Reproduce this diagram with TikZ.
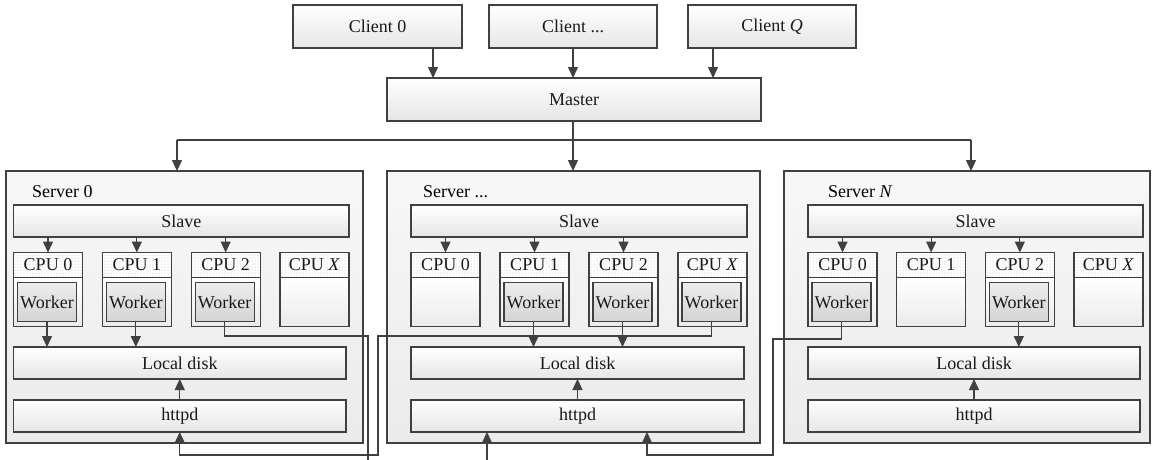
\documentclass[tikz,border=0pt]{standalone}
\usepackage{fontspec}
\setmainfont{Liberation Serif}
\usetikzlibrary{arrows.meta,patterns,calc}

\tikzset{
  ln/.style={draw=black!75, line width=1.3pt},
  arr/.style={ln, -{Triangle[length=11pt,width=10pt]}},
  boxbase/.style={draw=black!75, line width=1.3pt, inner sep=0pt, outer sep=0pt,
                  anchor=north west, text=black!90},
  panel/.style={boxbase, top color=white, bottom color=black!10},
  serverbox/.style={boxbase, top color=black!3, bottom color=black!8},
  cpuhead/.style={boxbase, preaction={fill=white}, pattern=dots, pattern color=black!30},
  cpubody/.style={boxbase, top color=white, bottom color=black!8},
  workerbox/.style={boxbase, top color=black!7, bottom color=black!17},
}

% one server: id, box left, box right, content left, content right, label x, label
\newcommand\serverunit[7]{%
  \node[serverbox, minimum width={#3-#2}, minimum height=272] (#1) at (#2,171) {};
  \node[anchor=west, inner sep=0pt] (#1lbl) at (#6,192) {#7};
  \node[panel, minimum width={#5-#4}, minimum height=32] (#1slave) at (#4,205) {Slave};
  \pgfmathsetmacro\cpupitch{(#5-#4-69)/3}
  \foreach \i/\lab in {0/CPU 0,1/CPU 1,2/CPU 2,3/CPU \textit{X}} {
    \pgfmathsetmacro\cx{#4+\i*\cpupitch}
    \node[cpuhead, minimum width=69, minimum height=25] (#1c\i h) at (\cx,252.5) {\lab};
    \node[cpubody, minimum width=69, minimum height=49] (#1c\i b) at (\cx,277.5) {};
  }
  \foreach \i in {0,1,2} {
    \draw[arr] (#1c\i h.north |- #1slave.south) -- (#1c\i h.north);
  }
  \node[panel, minimum width={#5-#4-3}, minimum height=32] (#1disk) at (#4,347) {Local disk};
  \node[panel, minimum width={#5-#4-3}, minimum height=32] (#1httpd) at (#4,400) {httpd};
  \draw[arr] (#1httpd.north) -- (#1disk.south);
}

% a worker inside CPU #2 of server #1
\newcommand\workerin[2]{%
  \node[workerbox, minimum width=59, minimum height=39] (#1w#2) at ($(#1c#2b.north west)+(4,5)$) {Worker};
}

\begin{document}
\begin{tikzpicture}[x=1pt, y=-1pt, font=\fontsize{18}{21}\selectfont]
  \path[use as bounding box, clip] (0,0) rectangle (1154,459);
  \fill[white] (0,0) rectangle (1154,459);

  % clients and master
  \node[panel, minimum width=169, minimum height=43] (c0) at (293,5) {Client 0};
  \node[panel, minimum width=168, minimum height=43] (c1) at (489,5) {Client ...};
  \node[panel, minimum width=168, minimum height=43] (c2) at (688,5) {Client \textit{Q}};
  \node[panel, minimum width=374, minimum height=43] (m) at (387,78) {Master};

  \coordinate (xa) at (433,0);
  \coordinate (xb) at (573,0);
  \coordinate (xc) at (713,0);
  \draw[arr] (c0.south -| xa) -- (m.north -| xa);
  \draw[arr] (c1.south -| xb) -- (m.north -| xb);
  \draw[arr] (c2.south -| xc) -- (m.north -| xc);

  % servers
  \serverunit{sA}{6}{363}{13.5}{349}{32}{Server 0}
  \serverunit{sB}{387}{760}{411}{747}{423}{Server ...}
  \serverunit{sC}{784}{1150}{808}{1143}{828}{Server \textit{N}}

  % master to servers
  \coordinate (h0) at (177,140);
  \coordinate (h1) at (573,140);
  \coordinate (h2) at (971,140);
  \draw[ln] (h0) -- (h2);
  \draw[ln] (m.south -| h1) -- (h1);
  \draw[arr] (h0) -- (h0 |- sA.north);
  \draw[arr] (h1) -- (h1 |- sB.north);
  \draw[arr] (h2) -- (h2 |- sC.north);

  % workers
  \workerin{sA}{0}\workerin{sA}{1}\workerin{sA}{2}
  \workerin{sB}{1}\workerin{sB}{2}\workerin{sB}{3}
  \workerin{sC}{0}\workerin{sC}{2}

  % workers writing to their own local disk
  \draw[arr] (sAw0.south) -- (sAw0.south |- sAdisk.north);
  \draw[arr] (sAw1.south) -- (sAw1.south |- sAdisk.north);
  \draw[arr] (sBw1.south) -- (sBw1.south |- sBdisk.north);
  \draw[arr] (sBw2.south) -- (sBw2.south |- sBdisk.north);
  \draw[arr] (sCw2.south) -- (sCw2.south |- sCdisk.north);

  % workers fetching from other servers' httpd
  \coordinate (rA1) at (368,336);
  \coordinate (rA2) at (368,475);
  \coordinate (rA3) at (487,475);
  \draw[arr] (sAw2.south) |- (rA1) -- (rA2) -- (rA3) -- (rA3 |- sBhttpd.south);

  \coordinate (rB1) at (378,336);
  \coordinate (rB2) at (378,455);
  \draw[arr] (sBw3.south) |- (rB1) -- (rB2) -| (sAhttpd.south);

  \coordinate (rC1) at (773,339);
  \coordinate (rC2) at (773,455);
  \coordinate (rC3) at (647,455);
  \draw[arr] (sCw0.south) |- (rC1) -- (rC2) -- (rC3) -- (rC3 |- sBhttpd.south);
\end{tikzpicture}
\end{document}
